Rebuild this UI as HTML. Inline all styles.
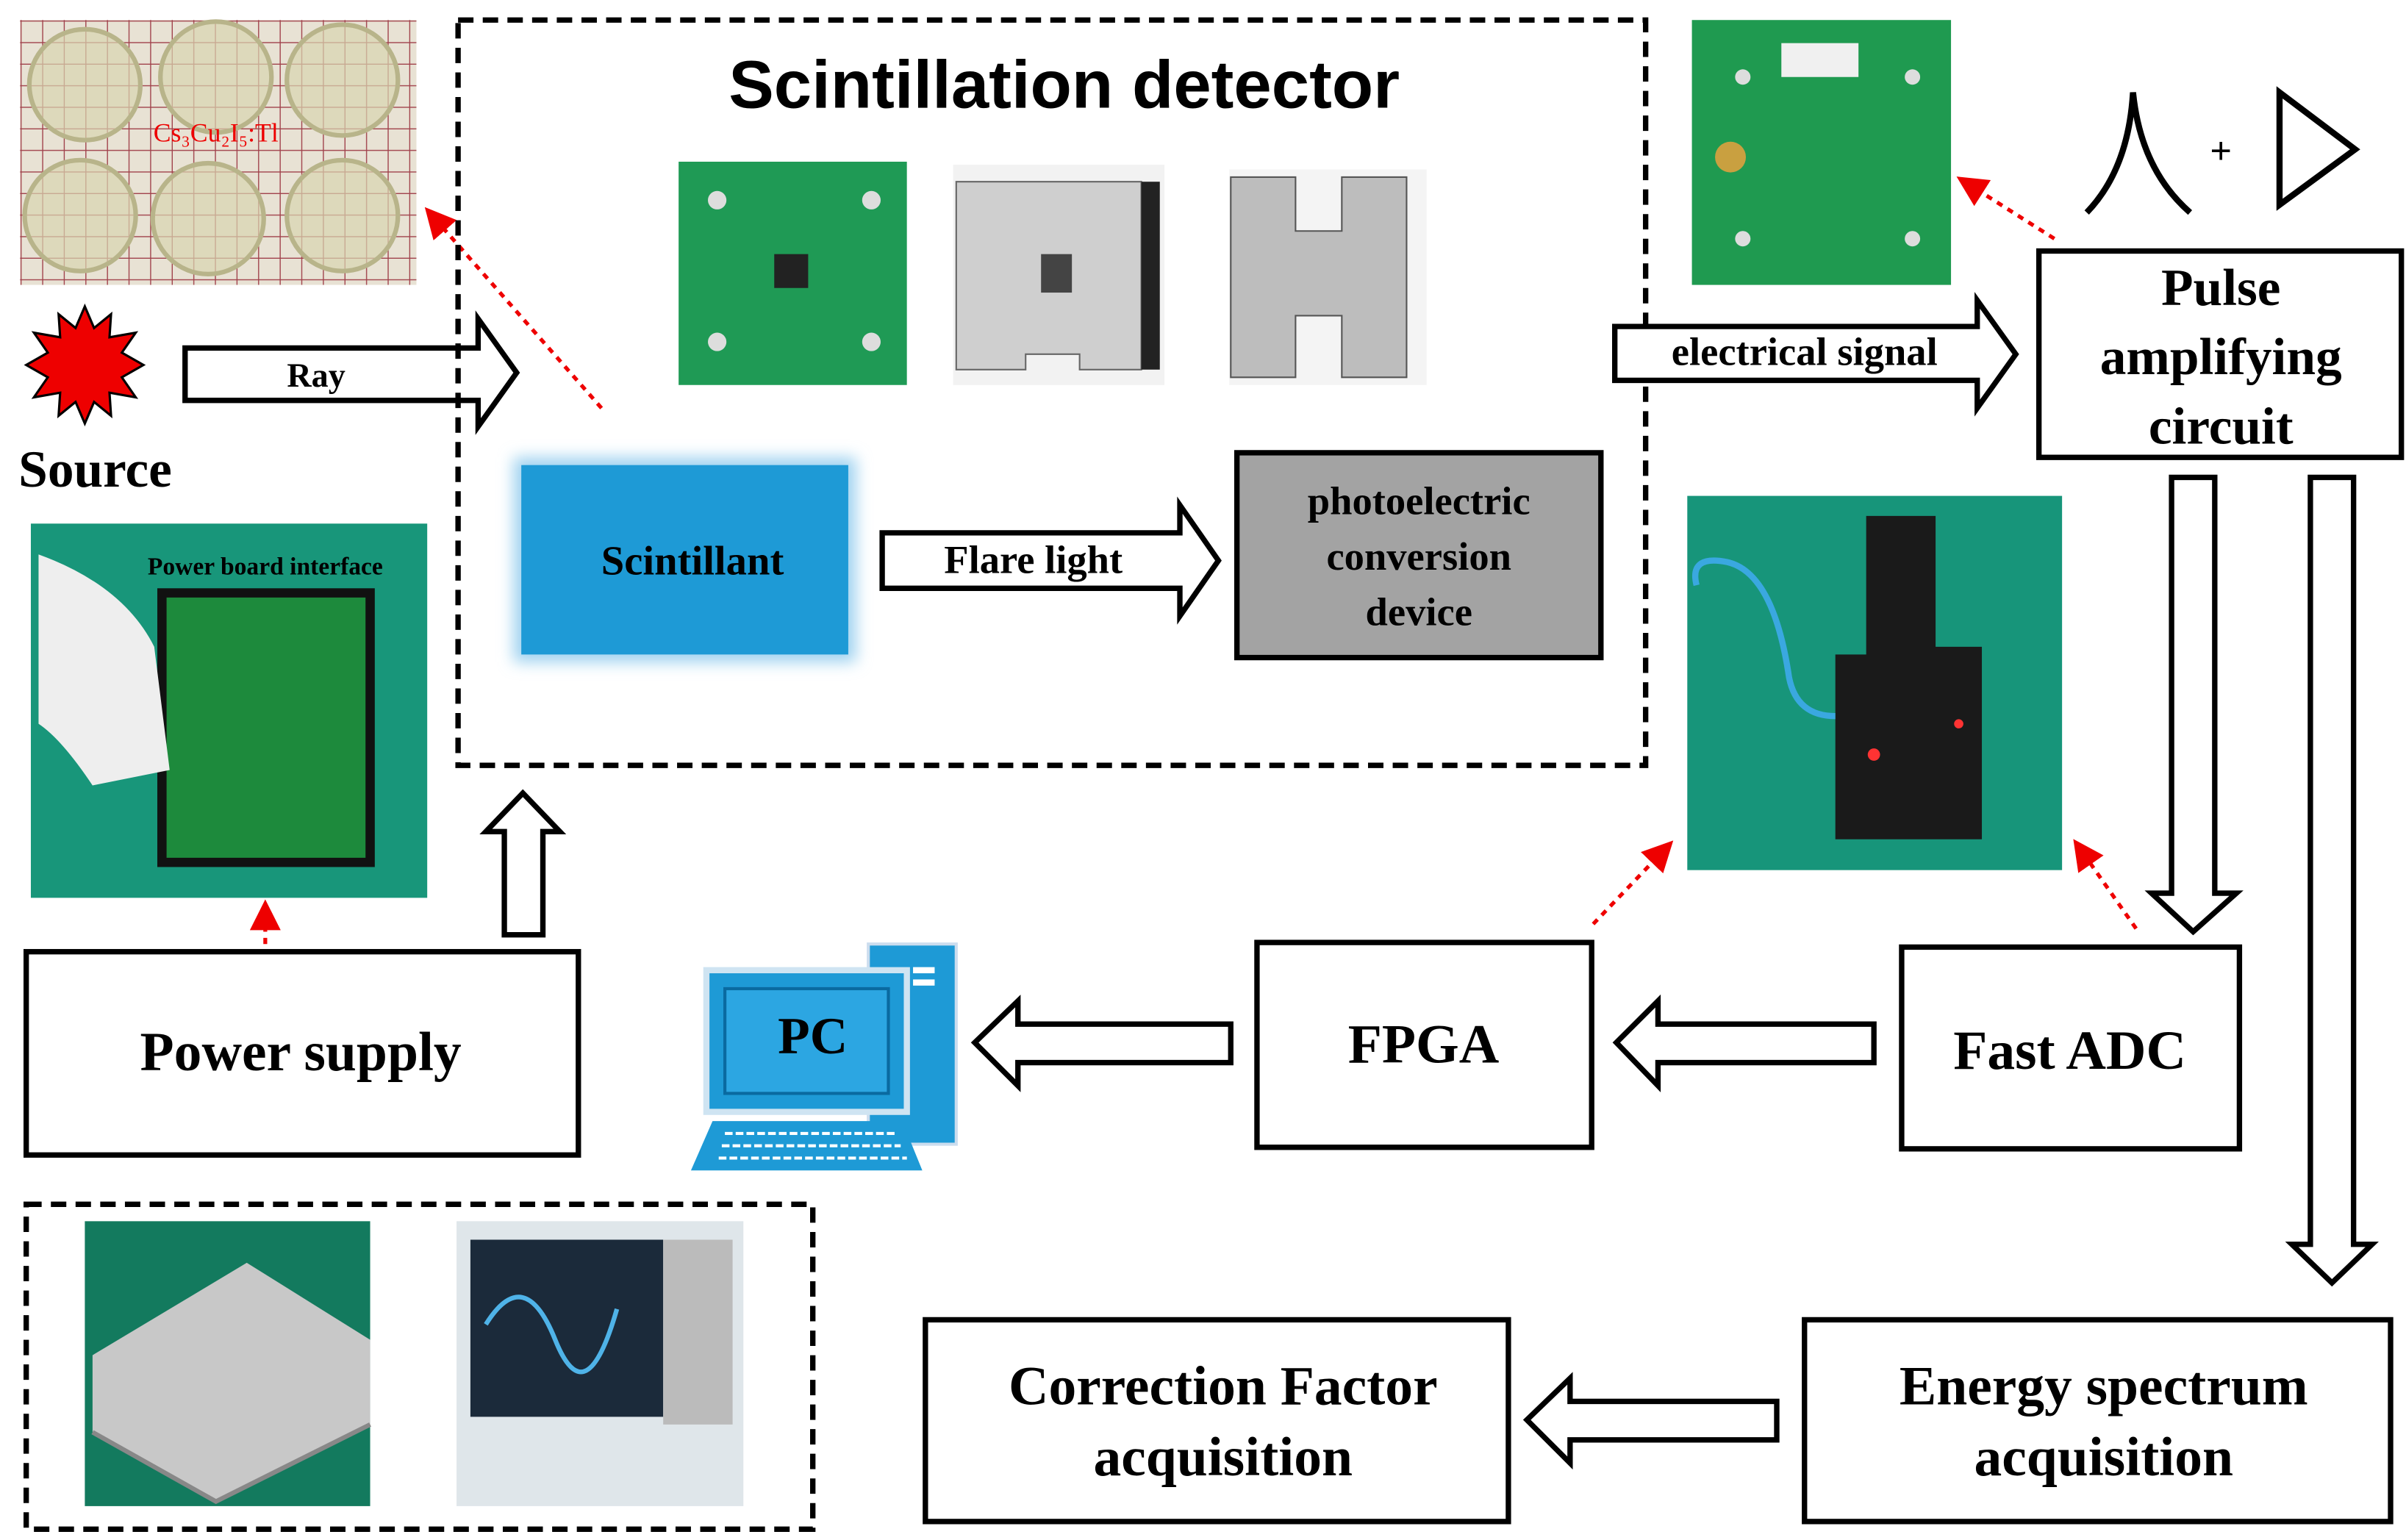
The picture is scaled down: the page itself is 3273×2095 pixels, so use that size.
<!DOCTYPE html>
<html><head><meta charset="utf-8"><style>
html,body{margin:0;padding:0;background:#fff;}
svg{display:block;}
.s{font-family:"Liberation Serif",serif;font-weight:bold;fill:#000;}
.a{font-family:"Liberation Sans",sans-serif;font-weight:bold;fill:#000;}
</style></head><body>
<svg width="3273" height="2095" viewBox="0 0 1560 1000" preserveAspectRatio="none" xmlns="http://www.w3.org/2000/svg">
<defs>
<pattern id="grid" width="14" height="14" patternUnits="userSpaceOnUse">
<rect width="14" height="14" fill="#e8e2d4"/>
<path d="M14 0V14M0 14H14" stroke="#a0404a" stroke-width="1.3"/>
</pattern>
<filter id="glow" x="-20%" y="-20%" width="140%" height="140%"><feGaussianBlur stdDeviation="5"/></filter>
<marker id="rh" markerWidth="8" markerHeight="8" refX="4" refY="4" orient="auto"><path d="M0,0 L8,4 L0,8 z" fill="#e00"/></marker>
</defs>

<!-- crystals photo -->
<rect x="13" y="13" width="257" height="172" fill="url(#grid)"/>
<g fill="#d8d6b0" fill-opacity="0.7" stroke="#b8b48a" stroke-width="3">
<circle cx="55" cy="55" r="36"/><circle cx="140" cy="50" r="36"/><circle cx="222" cy="52" r="36"/>
<circle cx="52" cy="140" r="36"/><circle cx="135" cy="142" r="36"/><circle cx="222" cy="140" r="36"/>
</g>
<text x="140" y="92" font-family="Liberation Serif,serif" font-size="17" fill="#e00" text-anchor="middle">Cs₃Cu₂I₅:Tl</text>

<!-- source -->
<polygon fill="#e00" stroke="#000" stroke-width="1.5" points="55,199 61,213 72,204 71,219 88,216 79,229 93,237 79,245 88,258 71,255 72,270 61,261 55,275 49,261 38,270 39,255 22,258 31,245 17,237 31,229 22,216 39,219 38,204 49,213"/>
<text class="s" x="12" y="316" font-size="34">Source</text>

<!-- Ray arrow -->
<path d="M120,226 H310 V207 L335,242 L310,277 V260 H120 Z" fill="#fff" stroke="#000" stroke-width="3.5"/>
<text class="s" x="205" y="251" font-size="22" text-anchor="middle">Ray</text>
<line x1="390" y1="265" x2="282" y2="142" stroke="#e00" stroke-width="2.5" stroke-dasharray="4,4" marker-end="url(#rh)"/>

<!-- detector dashed box -->
<rect x="297" y="13" width="770" height="484" fill="none" stroke="#000" stroke-width="3.5" stroke-dasharray="10,6"/>
<text class="a" x="690" y="70" font-size="44" text-anchor="middle">Scintillation detector</text>
<rect x="440" y="105" width="148" height="145" fill="#1f9a55"/>
<rect x="502" y="165" width="22" height="22" fill="#222"/>
<circle cx="465" cy="130" r="6" fill="#ddd"/><circle cx="565" cy="130" r="6" fill="#ddd"/><circle cx="465" cy="222" r="6" fill="#ddd"/><circle cx="565" cy="222" r="6" fill="#ddd"/>
<rect x="618" y="107" width="137" height="143" fill="#f2f2f2"/>
<path d="M620,118 H740 V240 H700 V230 H665 V240 H620 Z" fill="#cfcfcf" stroke="#666"/>
<rect x="740" y="118" width="12" height="122" fill="#222"/>
<rect x="675" y="165" width="20" height="25" fill="#444"/>
<rect x="797" y="110" width="128" height="140" fill="#f4f4f4"/>
<path d="M798,115 H840 V150 H870 V115 H912 V245 H870 V205 H840 V245 H798 Z" fill="#bdbdbd" stroke="#555"/>

<rect x="333" y="297" width="222" height="133" fill="#9fd2f0" filter="url(#glow)"/>
<rect x="338" y="302" width="212" height="123" fill="#1e9ad6"/>
<text class="s" x="449" y="373" font-size="27" text-anchor="middle">Scintillant</text>

<path d="M572,346 H765 V328 L790,364 L765,400 V382 H572 Z" fill="#fff" stroke="#000" stroke-width="3.5"/>
<text class="s" x="670" y="372" font-size="26" text-anchor="middle">Flare light</text>

<rect x="802" y="294" width="236" height="133" fill="#a3a3a3" stroke="#000" stroke-width="3.5"/>
<text class="s" font-size="26" text-anchor="middle"><tspan x="920" y="334">photoelectric</tspan><tspan x="920" y="370">conversion</tspan><tspan x="920" y="406">device</tspan></text>

<path d="M1047,212 H1282 V195 L1307,230 L1282,265 V247 H1047 Z" fill="#fff" stroke="#000" stroke-width="3.5"/>
<text class="s" x="1170" y="237" font-size="26" text-anchor="middle">electrical signal</text>

<!-- board photo top right -->
<rect x="1097" y="13" width="168" height="172" fill="#1f9a50"/>
<rect x="1155" y="28" width="50" height="22" fill="#f0f0f0"/>
<circle cx="1122" cy="102" r="10" fill="#c9a040"/>
<circle cx="1130" cy="50" r="5" fill="#ddd"/><circle cx="1240" cy="50" r="5" fill="#ddd"/><circle cx="1130" cy="155" r="5" fill="#ddd"/><circle cx="1240" cy="155" r="5" fill="#ddd"/>
<line x1="1332" y1="155" x2="1277" y2="120" stroke="#e00" stroke-width="2.5" stroke-dasharray="4,4" marker-end="url(#rh)"/>

<!-- pulse symbol -->
<path d="M1353,138 Q1380,110 1383,60 Q1388,110 1420,138" fill="none" stroke="#000" stroke-width="4"/>
<text x="1440" y="106" font-family="Liberation Sans,sans-serif" font-size="24" text-anchor="middle">+</text>
<path d="M1478,60 L1527,97 L1478,133 Z" fill="none" stroke="#000" stroke-width="4"/>

<rect x="1322" y="163" width="235" height="134" fill="#fff" stroke="#000" stroke-width="3.5"/>
<text class="s" font-size="34" text-anchor="middle"><tspan x="1440" y="198">Pulse</tspan><tspan x="1440" y="243">amplifying</tspan><tspan x="1440" y="288">circuit</tspan></text>

<!-- FPGA photo -->
<rect x="1094" y="322" width="243" height="243" fill="#17957a"/>
<path d="M1210,335 H1255 V420 H1285 V545 H1190 V425 H1210 Z" fill="#1a1a1a"/>
<circle cx="1215" cy="490" r="4" fill="#f33"/><circle cx="1270" cy="470" r="3" fill="#f33"/>
<path d="M1100,380 Q1095,360 1120,365 Q1150,372 1160,440 Q1165,465 1190,465" fill="none" stroke="#3aa8e0" stroke-width="4"/>

<!-- vertical arrows -->
<path d="M1408,310 H1436 V580 H1450 L1422,605 L1395,580 H1408 Z" fill="#fff" stroke="#000" stroke-width="3.5"/>
<path d="M1498,310 H1526 V808 H1538 L1512,833 L1486,808 H1498 Z" fill="#fff" stroke="#000" stroke-width="3.5"/>
<line x1="1385" y1="603" x2="1350" y2="553" stroke="#e00" stroke-width="2.5" stroke-dasharray="4,4" marker-end="url(#rh)"/>
<line x1="1033" y1="600" x2="1078" y2="553" stroke="#e00" stroke-width="2.5" stroke-dasharray="4,4" marker-end="url(#rh)"/>

<!-- power board photo -->
<rect x="20" y="340" width="257" height="243" fill="#18967a"/>
<rect x="105" y="385" width="135" height="175" fill="#1d8a3c" stroke="#111" stroke-width="6"/>
<path d="M25,360 Q80,380 100,420 L110,500 L60,510 Q40,480 25,470 Z" fill="#eee"/>
<text x="172" y="373" font-family="Liberation Serif,serif" font-weight="bold" font-size="16" fill="#000" text-anchor="middle">Power board interface</text>
<line x1="172" y1="637" x2="172" y2="594" stroke="#e00" stroke-width="2.5" stroke-dasharray="4,4" marker-end="url(#rh)"/>

<rect x="17" y="618" width="358" height="132" fill="#fff" stroke="#000" stroke-width="3.5"/>
<text class="s" x="195" y="695" font-size="36" text-anchor="middle">Power supply</text>
<path d="M327,607 H352 V540 H363 L339,515 L315,540 H327 Z" fill="#fff" stroke="#000" stroke-width="3.5"/>

<!-- PC -->
<rect x="563" y="613" width="57" height="130" fill="#1e9ad6" stroke="#cde" stroke-width="2"/>
<rect x="592" y="628" width="14" height="4" fill="#fff"/><rect x="592" y="636" width="14" height="4" fill="#fff"/>
<rect x="458" y="630" width="130" height="92" fill="#1e9ad6" stroke="#cfe4f2" stroke-width="4"/>
<rect x="470" y="642" width="106" height="68" fill="#2ca6e2" stroke="#0a6aa0" stroke-width="2"/>
<text class="s" x="527" y="684" font-size="34" text-anchor="middle">PC</text>
<path d="M462,728 H585 L598,760 H448 Z" fill="#1e9ad6"/>
<path d="M470,736 H580 M468,744 H584 M466,752 H588" stroke="#fff" stroke-width="2" stroke-dasharray="5,2"/>

<path d="M798,665 H660 V650 L632,677 L660,705 V690 H798 Z" fill="#fff" stroke="#000" stroke-width="3.5"/>
<rect x="815" y="612" width="217" height="133" fill="#fff" stroke="#000" stroke-width="3.5"/>
<text class="s" x="923" y="690" font-size="36" text-anchor="middle">FPGA</text>
<path d="M1215,665 H1075 V650 L1048,677 L1075,705 V690 H1215 Z" fill="#fff" stroke="#000" stroke-width="3.5"/>
<rect x="1233" y="615" width="219" height="131" fill="#fff" stroke="#000" stroke-width="3.5"/>
<text class="s" x="1342" y="694" font-size="36" text-anchor="middle">Fast ADC</text>

<!-- bottom dashed box -->
<rect x="17" y="782" width="510" height="211" fill="none" stroke="#000" stroke-width="3.5" stroke-dasharray="10,6"/>
<rect x="55" y="793" width="185" height="185" fill="#137a5e"/>
<path d="M60,880 L160,820 L240,870 L240,925 L140,975 L60,930 Z" fill="#c8c8c8"/>
<path d="M60,930 L140,975 L240,925" fill="none" stroke="#888" stroke-width="3"/>
<rect x="296" y="793" width="186" height="185" fill="#dfe6ea"/>
<rect x="305" y="805" width="125" height="115" fill="#1b2a3a"/>
<path d="M315,860 Q340,820 360,870 T400,850" fill="none" stroke="#4fb3e8" stroke-width="3"/>
<rect x="430" y="805" width="45" height="120" fill="#bbb"/>

<rect x="600" y="857" width="378" height="131" fill="#fff" stroke="#000" stroke-width="3.5"/>
<text class="s" font-size="36" text-anchor="middle"><tspan x="793" y="912">Correction Factor</tspan><tspan x="793" y="958">acquisition</tspan></text>
<path d="M1152,910 H1018 V895 L990,922 L1018,950 V935 H1152 Z" fill="#fff" stroke="#000" stroke-width="3.5"/>
<rect x="1170" y="857" width="380" height="131" fill="#fff" stroke="#000" stroke-width="3.5"/>
<text class="s" font-size="36" text-anchor="middle"><tspan x="1364" y="912">Energy spectrum</tspan><tspan x="1364" y="958">acquisition</tspan></text>
</svg>
</body></html>
